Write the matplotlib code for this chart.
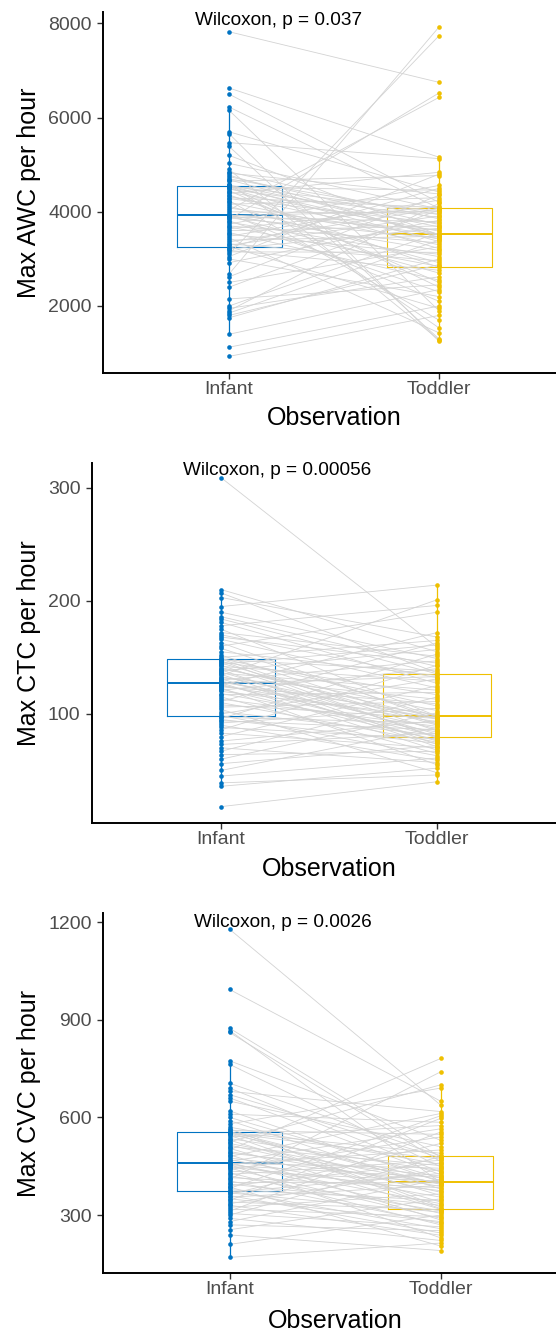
import matplotlib
matplotlib.use("Agg")
import matplotlib.pyplot as plt

plt.rcParams["font.family"] = ["Liberation Sans", "DejaVu Sans"]

groups = ["Infant", "Toddler"]
group_colors = ["#0073C2", "#EFC000"]
line_color = "#D3D3D3"
x_title = "Observation"

# Paired values, one entry per child (same order in each pair of lists)
awc_infant = [930, 1125, 1400, 1750, 1800, 1850, 1900, 1950, 2000, 2150, 2400,
              2500, 2620, 2680, 2920, 3000, 3050, 3100, 3150, 3180, 3210, 3240,
              3260, 3290, 3320, 3360, 3400, 3450, 3480, 3520, 3560, 3600, 3640,
              3680, 3700, 3740, 3780, 3810, 3840, 3870, 3890, 3910, 3920, 3925,
              3935, 3960, 4000, 4040, 4080, 4120, 4160, 4200, 4240, 4280, 4300,
              4330, 4360, 4390, 4420, 4450, 4480, 4500, 4520, 4530, 4540, 4545,
              4560, 4570, 4600, 4650, 4680, 4700, 4750, 4780, 4820, 4850, 4900,
              5030, 5200, 5390, 5470, 5660, 5700, 6156, 6226, 6500, 6630, 7825]
awc_toddler = [1800, 2000, 2350, 3000, 2880, 3400, 4180, 2620, 3560, 2450, 4040,
               3260, 4350, 7925, 3820, 2200, 4800, 7740, 3140, 2760, 3650, 4500,
               1950, 3910, 2960, 4070, 3480, 1430, 4250, 3100, 2550, 3700, 4120,
               2840, 3340, 4560, 3050, 2300, 6525, 3440, 3790, 2700, 4020, 3180,
               3620, 2100, 3970, 6430, 3515, 2920, 4300, 3300, 1700, 3760, 4090,
               3420, 2820, 4840, 3590, 2500, 3880, 3220, 4460, 3525, 2400, 4000,
               3370, 3680, 1535, 4770, 3500, 3940, 3730, 3460, 4380, 3850, 1280,
               4060, 3510, 1300, 5130, 1250, 4420, 1900, 4075, 4200, 5160, 6750]

ctc_infant = [18, 36, 39, 45, 50, 56, 60, 64, 67, 70, 73, 76, 80, 83, 86, 88, 90,
              92, 94, 95, 96, 97, 98.5, 100, 102, 104, 106, 108, 110, 111, 113,
              115, 117, 118, 120, 121, 122, 123, 124, 125, 125.5, 126, 127, 127.5,
              128, 129, 130, 131, 132, 133, 134, 135, 136, 137, 138, 139, 140,
              141, 142, 143, 144, 145, 146, 147, 148, 148.5, 149, 150, 152, 155,
              158, 160, 163, 166, 168, 170, 172, 175, 178, 181, 184, 186, 190,
              195, 203, 207, 210, 309]
ctc_toddler = [40, 52, 46, 61, 88, 72, 101, 67, 115, 57, 83, 94, 125, 70, 143, 78,
               59, 105, 86, 74, 153, 92, 63, 131, 81, 48, 111, 96, 75, 163, 89, 65,
               119, 84, 97, 140, 77, 55, 109, 93, 172, 80, 133, 68, 99, 87, 147,
               76, 113, 95.5, 201, 71, 121, 82, 157, 73, 103, 96.5, 129, 79.5, 161,
               90, 117, 78.5, 138, 85, 107, 165, 91, 134, 97.5, 190, 95, 123, 145,
               132, 151, 98, 196, 127, 135.5, 142, 149, 214, 168, 136.5, 155, 159]

cvc_infant = [170, 210, 239, 255, 270, 280, 290, 300, 305, 312, 318, 324, 330,
              335, 340, 345, 350, 355, 360, 364, 368, 370, 374, 378, 382, 386, 390,
              395, 400, 405, 410, 415, 420, 425, 430, 435, 440, 444, 448, 452, 455,
              457, 458, 459, 461, 465, 470, 475, 480, 485, 490, 495, 500, 505, 510,
              515, 520, 525, 530, 535, 540, 545, 548, 551, 553, 554, 556, 560, 565,
              570, 580, 590, 600, 610, 620, 650, 660, 670, 680, 690, 705, 763, 774,
              861, 867, 874, 993, 1178]
cvc_toddler = [214, 300, 191, 350, 252, 410, 222, 480, 264, 555, 295, 365, 238,
               440, 316, 597, 280, 391, 245, 520, 309, 428, 258, 345, 605, 205, 460,
               330, 399, 275, 740, 384, 313, 468, 270, 404, 540, 290, 375, 416, 230,
               500, 335, 444, 305, 565, 355, 401, 612, 285, 420, 388, 781, 318, 452,
               370, 397, 700, 340, 436, 575, 320, 407, 472, 360, 490, 394, 548, 325,
               456, 690, 380, 413, 585, 402, 510, 424, 476, 618, 432, 482, 448, 530,
               464, 400, 478, 650, 638]

y_titles = ["Max AWC per hour", "Max CTC per hour", "Max CVC per hour"]
p_labels = ["Wilcoxon, p = 0.037", "Wilcoxon, p = 0.00056", "Wilcoxon, p = 0.0026"]
y_ticks = [[2000, 4000, 6000, 8000], [100, 200, 300], [300, 600, 900, 1200]]

W, H, DPI = 556, 1334, 100
fig = plt.figure(figsize=(W / DPI, H / DPI), dpi=DPI)

# panel frames in pixels: left, top, bottom, pixels per category step
frames = [(103, 12, 373, 210), (91.5, 463, 823, 216), (103, 913, 1273, 211)]
y_limits = [(577, 8244), (3.5, 322), (122, 1228)]
label_pos = [(0.838, 8053), (0.824, 315), (0.829, 1200)]

data = [(awc_infant, awc_toddler), (ctc_infant, ctc_toddler), (cvc_infant, cvc_toddler)]

for k in range(3):
    left, top, bottom, step = frames[k]
    width = 2.2 * step
    ax = fig.add_axes([left / W, 1 - bottom / H, width / W, (bottom - top) / H])
    ax.set_xlim(0.4, 2.6)
    ax.set_ylim(*y_limits[k])
    inf, tod = data[k]

    for g, (vals, col) in enumerate(zip((inf, tod), group_colors)):
        ax.boxplot([vals], positions=[g + 1], widths=0.5, whis=1.5,
                   showfliers=False, showcaps=False, manage_ticks=False,
                   boxprops=dict(color=col, linewidth=0.8),
                   whiskerprops=dict(color=col, linewidth=0.9),
                   medianprops=dict(color=col, linewidth=1.4),
                   zorder=1)

    for a, b in zip(inf, tod):
        ax.plot([1, 2], [a, b], color=line_color, linewidth=0.6, zorder=2)

    ax.scatter([1] * len(inf), inf, s=11, color=group_colors[0], zorder=3, linewidths=0)
    ax.scatter([2] * len(tod), tod, s=11, color=group_colors[1], zorder=3, linewidths=0)

    ax.text(label_pos[k][0], label_pos[k][1], p_labels[k], ha="left", va="center",
            fontsize=13.7, color="black", zorder=4)

    ax.set_xticks([1, 2])
    ax.set_xticklabels(groups)
    ax.set_yticks(y_ticks[k])
    ax.tick_params(axis="both", labelsize=14, labelcolor="#4D4D4D", color="#333333",
                   length=4, width=1.0)
    ax.tick_params(axis="x", pad=2)
    ax.tick_params(axis="y", pad=4)

    for side in ("top", "right"):
        ax.spines[side].set_visible(False)
    for side in ("left", "bottom"):
        ax.spines[side].set_linewidth(1.4)
        ax.spines[side].set_color("black")

    ax.set_ylabel(y_titles[k], fontsize=18)
    ax.yaxis.set_label_coords((41.5 - left) / width, 0.5)
    ax.set_xlabel(x_title, fontsize=18)
    ax.xaxis.set_label_coords(0.5, -(33 + (k * 1.5)) / (bottom - top))

fig.savefig("out.png", dpi=DPI)
